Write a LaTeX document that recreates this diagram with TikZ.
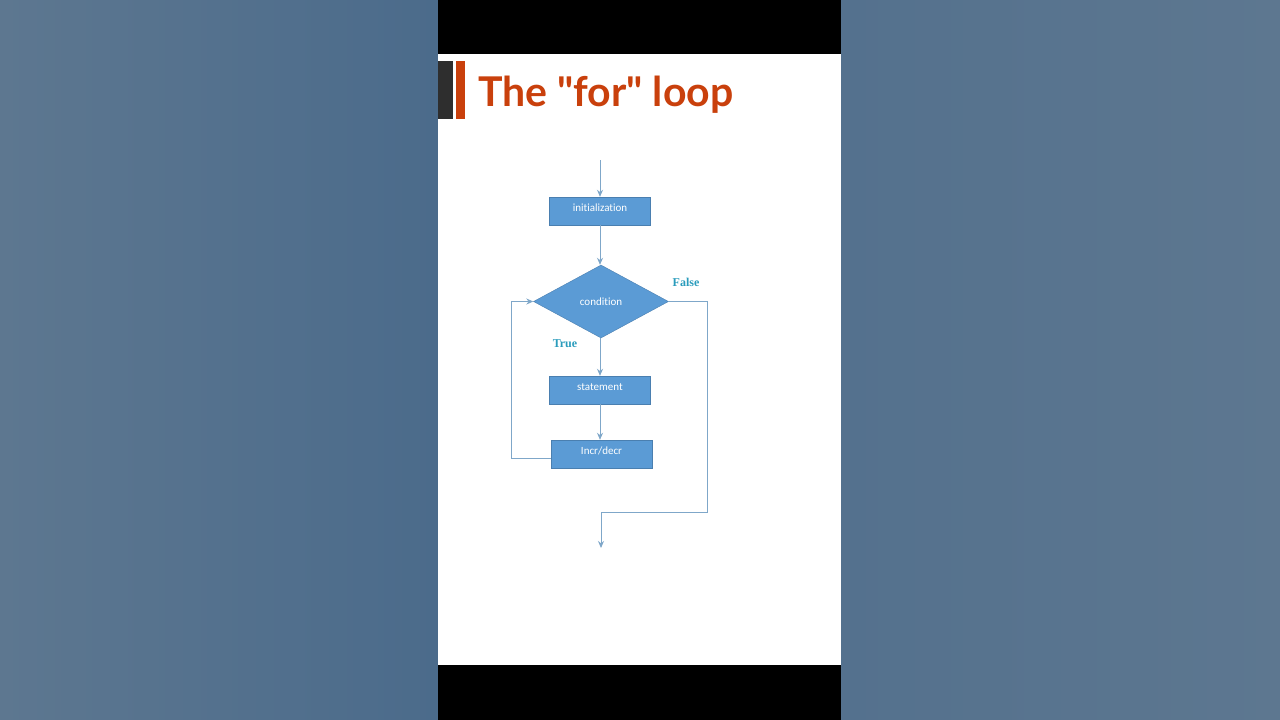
\documentclass[tikz,border=0pt]{standalone}
\usepackage{fontspec}
\setmainfont{Carlito}[Ligatures=NoCommon]
\newfontfamily\titlefont{Lato}
\newfontfamily\labfont{Liberation Serif}
\usetikzlibrary{shapes.geometric,arrows.meta}
\definecolor{panel}{HTML}{5D7790}
\definecolor{panelD}{HTML}{4B6B8B}
\definecolor{titlecol}{HTML}{C9400C}
\definecolor{boxfill}{HTML}{5B9BD5}
\definecolor{boxline}{HTML}{4A7FB0}
\definecolor{conn}{HTML}{7FA7C9}
\definecolor{labcol}{HTML}{2A9CBC}
\tikzset{
  stepbox/.style={draw=boxline, fill=boxfill, minimum width=101pt, minimum height=28pt, inner sep=0pt, text=white, font=\fontsize{11}{13}\selectfont, text depth=5pt, text height=5pt},
  decbox/.style={diamond, draw=boxline, fill=boxfill, minimum width=135pt, minimum height=73pt, inner sep=0pt, aspect=1.85, text=white, font=\fontsize{11}{13}\selectfont},
  conline/.style={draw=conn, line width=0.9pt},
  arr/.style={conline, -{Stealth[length=7pt,width=6pt]}},
  lab/.style={text=labcol, font=\labfont\bfseries\fontsize{12}{14}\selectfont},
}
\begin{document}
\begin{tikzpicture}[x=1pt,y=-1pt]
\useasboundingbox (0,0) rectangle (1280,720);
% background panels
\shade[left color=panel, right color=panelD] (0,0) rectangle (438,720);
\shade[left color=panelD!50!panel, right color=panel] (841,0) rectangle (1280,720);
\fill[black] (438,0) rectangle (841,54);
\fill[black] (438,665) rectangle (841,720);
\fill[white] (438,54) rectangle (841,665);
% title bars
\fill[black!82] (438,61) rectangle (453,119);
\fill[titlecol] (456,61) rectangle (465,119);
\node[anchor=base west, inner sep=0pt, text=titlecol, font=\titlefont\bfseries\fontsize{41}{46}\selectfont] (title) at (478,106) {The "for" loop};
% flowchart
\coordinate (start) at (600,160);
\node[stepbox] (init) at (600,211) {initialization};
\node[decbox] (cond) at (601,301.5) {condition};
\node[stepbox] (stmt) at (600,390) {statement};
\node[stepbox] (incr) at (601.5,454) {Incr/decr};
\coordinate (fr) at (707,301.5);
\coordinate (fb) at (707,512);
\coordinate (fm) at (601,512);
\coordinate (stop) at (601,548);
\coordinate (lb) at (511,458);
\coordinate (lt) at (511,301.5);
\draw[arr] (start) -- (init.north);
\draw[arr] (init.south) -- (init.south |- cond.north);
\draw[arr] (cond.south -| stmt.north) -- (stmt.north);
\draw[arr] (stmt.south) -- (stmt.south |- incr.north);
\draw[conline] (cond.east) -- (fr) -- (fb) -- (fm);
\draw[arr] (fm) -- (stop);
\draw[conline] (incr.west |- lb) -- (lb) -- (lt);
\draw[arr] (lt) -- (cond.west);
\node[lab] (false) at (686,282) {False};
\node[lab] (true) at (565,344) {True};
\end{tikzpicture}
\end{document}
